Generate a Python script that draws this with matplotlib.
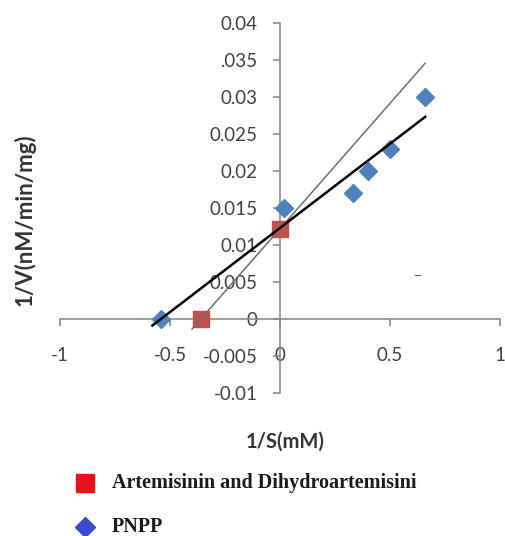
import matplotlib.pyplot as plt
import numpy as np
from matplotlib.lines import Line2D

# ── Data ──────────────────────────────────────────────────────────────────────
PNPP_X = [-0.54, 0.02, 0.33, 0.40, 0.50, 0.66]
PNPP_Y = [0.0, 0.015, 0.017, 0.020, 0.023, 0.030]
ART_X = [-0.36, 0.0]
ART_Y = [0.0, 0.0122]
PNPP_FIT_RANGE = [-0.58, 0.66]
ART_FIT_RANGE = [-0.40, 0.66]

X_TICKS = [-1, -0.5, 0, 0.5, 1]
X_TICK_LABELS = ["-1", "-0.5", "0", "0.5", "1"]
Y_TICKS = [-0.01, -0.005, 0, 0.005, 0.01, 0.015, 0.02, 0.025, 0.03, 0.035, 0.04]
Y_TICK_LABELS = ["-0.01", "-0.005", "0", "0.005", "0.01", "0.015", "0.02",
                 "0.025", "0.03", ".035", "0.04"]

LEGEND_LABELS = ["Artemisinin and Dihydroartemisini", "PNPP"]

# ── Palette ──────────────────────────────────────────────────────────────────
BLUE = "#4F81BD"
RED = "#C0504D"
AXIS_GRAY = "#8C8C8C"
TEXT = "#404040"
LEG_RED = "#E8141C"
LEG_BLUE = "#3A4AD0"

fig = plt.figure(figsize=(5.05, 5.36), dpi=100)
ax = fig.add_axes([60 / 505, 1 - 393 / 536, 440 / 505, 370 / 536])

# trend lines
b_p = np.polyfit(PNPP_X, PNPP_Y, 1)
xp = np.array(PNPP_FIT_RANGE)
b_a = np.polyfit(ART_X, ART_Y, 1)
xa = np.array(ART_FIT_RANGE)

ax.plot(PNPP_X, PNPP_Y, ls="none", marker="D", ms=9.5, color=BLUE, zorder=3)
ax.plot(ART_X, ART_Y, ls="none", marker="s", ms=11.5, color=RED, zorder=3)
ax.plot(xa, np.polyval(b_a, xa), color="#6E6E6E", lw=1.1, zorder=4)
ax.plot(xp, np.polyval(b_p, xp), color="black", lw=1.8, zorder=4)

ax.set_xlim(-1, 1)
ax.set_ylim(-0.01, 0.04)
ax.spines["left"].set_position(("data", 0))
ax.spines["bottom"].set_position(("data", 0))
for s in ("top", "right"):
    ax.spines[s].set_visible(False)
for s in ("left", "bottom"):
    ax.spines[s].set_color(AXIS_GRAY)
    ax.spines[s].set_linewidth(1.2)

ax.set_xticks(X_TICKS, X_TICK_LABELS)
ax.set_yticks(Y_TICKS, Y_TICK_LABELS)
ax.tick_params(axis="both", colors=AXIS_GRAY, labelcolor=TEXT, labelsize=13.5,
               length=5, width=1.2, direction="out")
ax.tick_params(axis="x", pad=15)
ax.tick_params(axis="y", pad=11)
for lab in ax.get_xticklabels() + ax.get_yticklabels():
    lab.set_family("Lato")

# stray mark inside the plot
ax.text(0.627, 0.0059, "--", fontsize=9, color="#555555", ha="center", va="center")

fig.text(285 / 505, 1 - 442 / 536, "1/S(mM)", ha="center", va="center",
         fontsize=14.5, fontweight="bold", color="#333333", family="Lato")
fig.text(25 / 505, 1 - 220 / 536, "1/V(nM/min/mg)", ha="center", va="center",
         rotation=90, fontsize=16, fontweight="bold", color="#333333",
         family="Lato")

# legend drawn by hand below the plot
fig.add_artist(Line2D([85 / 505], [1 - 483 / 536], marker="s", ms=13,
                      color=LEG_RED, ls="none"))
fig.add_artist(Line2D([85 / 505], [1 - 527 / 536], marker="D", ms=10,
                      color=LEG_BLUE, ls="none"))
fig.text(112 / 505, 1 - 483 / 536, LEGEND_LABELS[0], ha="left", va="center",
         fontsize=14.5, fontweight="bold", family="Liberation Serif", color="#1A1A1A")
fig.text(112 / 505, 1 - 527 / 536, LEGEND_LABELS[1], ha="left", va="center",
         fontsize=14.5, fontweight="bold", family="Liberation Serif", color="#1A1A1A")

fig.savefig("out.png", dpi=100)
